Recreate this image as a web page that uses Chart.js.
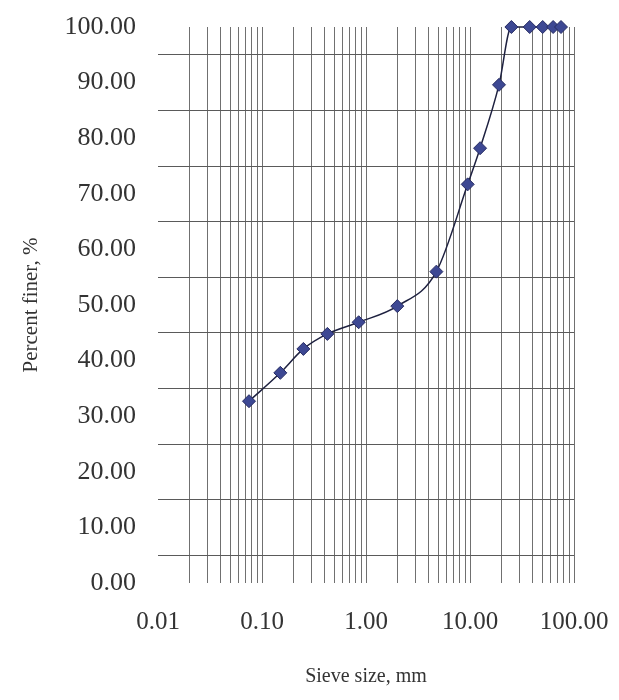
<!DOCTYPE html>
<html lang="en">
<head>
<meta charset="UTF-8">
<title>Grain size distribution</title>
<script src="https://cdn.jsdelivr.net/npm/chart.js"></script>
<style>
  html, body { margin: 0; padding: 0; background: #ffffff; }
  .chart-box { width: 619px; height: 700px; }
</style>
</head>
<body>
<div class="chart-box"><canvas id="gradation"></canvas></div>
<script>
// sieve openings (mm) and percent passing
const sieveSizes = [0.075, 0.15, 0.25, 0.425, 0.85, 2.0, 4.75, 9.5, 12.5, 19, 25, 37.5, 50, 63, 75];
const percentFiner = [32.7, 37.8, 42.1, 44.8, 46.9, 49.8, 56.0, 71.7, 78.2, 89.6, 100, 100, 100, 100, 100];

// labelled decades on the x axis, labelled values on the y axis
const decadeTicks = [0.01, 0.1, 1, 10, 100];
const percentTicks = [0, 10, 20, 30, 40, 50, 60, 70, 80, 90, 100];

const serif = '"Liberation Serif", "Times New Roman", serif';

// 1..9 lines inside every decade
function logGridValues() {
  const vals = [];
  for (let i = 0; i < decadeTicks.length - 1; i++) {
    const d = decadeTicks[i];
    for (let m = 1; m <= 9; m++) {
      vals.push(m === 1 ? d : +(m * d).toPrecision(3));
    }
  }
  vals.push(decadeTicks[decadeTicks.length - 1]);
  return vals;
}

// y lines every 5, only the tens get a label
function percentGridValues() {
  const vals = [];
  for (let i = 0; i < percentTicks.length; i++) {
    vals.push(percentTicks[i]);
    if (i < percentTicks.length - 1) vals.push(percentTicks[i] + 5);
  }
  return vals;
}

const ctx = document.getElementById('gradation').getContext('2d');
new Chart(ctx, {
  type: 'line',
  data: {
    datasets: [{
      data: sieveSizes.map((s, i) => ({ x: s, y: percentFiner[i] })),
      borderColor: '#1e2140',
      borderWidth: 1.5,
      cubicInterpolationMode: 'monotone',
      pointStyle: 'rectRot',
      pointRadius: 6.5,
      pointBackgroundColor: '#3d4893',
      pointBorderColor: '#262b62',
      pointBorderWidth: 1,
      clip: false
    }]
  },
  options: {
    responsive: true,
    maintainAspectRatio: false,
    animation: false,
    layout: { padding: { top: 27, right: 45, bottom: 0, left: 0 } },
    plugins: {
      legend: { display: false },
      tooltip: { enabled: false }
    },
    scales: {
      x: {
        type: 'logarithmic',
        min: 0.01,
        max: 100,
        afterBuildTicks: scale => {
          scale.ticks = logGridValues().map(v => ({ value: v }));
        },
        afterFit: scale => {
          // end labels may hang past the plot edges
          scale.height = 117;
          scale.paddingLeft = 0;
          scale.paddingRight = 0;
        },
        border: { display: false },
        grid: {
          drawTicks: false,
          lineWidth: 1,
          color: c => c.index === 0 ? 'rgba(0,0,0,0)' : '#707070'
        },
        ticks: {
          autoSkip: false,
          maxRotation: 0,
          padding: 24,
          color: '#333333',
          font: { family: serif, size: 25 },
          callback: v => decadeTicks.includes(v) ? v.toFixed(2) : ''
        },
        title: {
          display: true,
          text: 'Sieve size, mm',
          color: '#333333',
          font: { family: serif, size: 20 },
          padding: { top: 0, bottom: 11 }
        }
      },
      y: {
        min: 0,
        max: 100,
        afterBuildTicks: scale => {
          scale.ticks = percentGridValues().map(v => ({ value: v }));
        },
        afterFit: scale => {
          scale.width = 158;
          scale.paddingTop = 0;
          scale.paddingBottom = 0;
        },
        border: { display: false },
        grid: {
          drawTicks: false,
          lineWidth: 1,
          color: c => c.tick && c.tick.value % 10 === 5 ? '#5a5a5a' : 'rgba(0,0,0,0)'
        },
        ticks: {
          autoSkip: false,
          padding: 22,
          color: '#333333',
          font: { family: serif, size: 26 },
          callback: v => percentTicks.includes(v) ? v.toFixed(2) : ''
        },
        title: {
          display: true,
          text: 'Percent finer, %',
          color: '#333333',
          font: { family: serif, size: 21 },
          padding: { top: 19, bottom: 0 }
        }
      }
    }
  }
});
</script>
</body>
</html>
